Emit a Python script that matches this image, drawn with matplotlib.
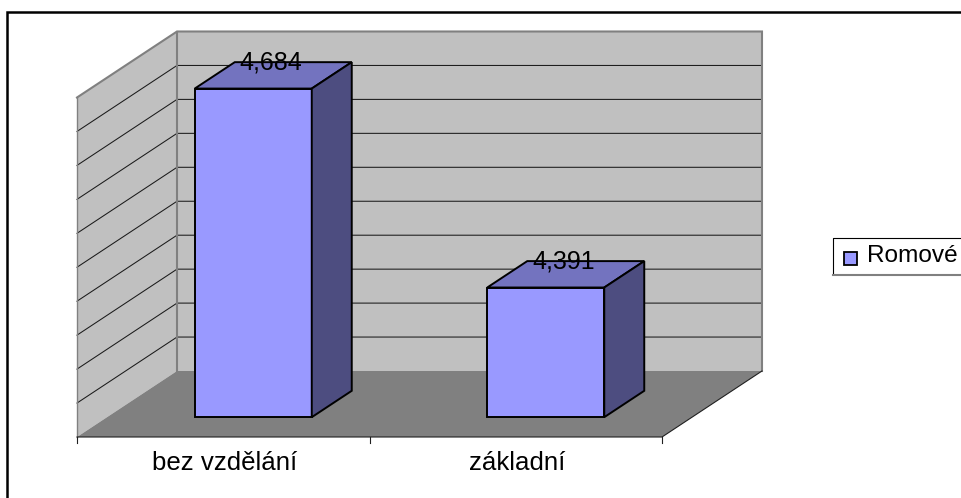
# -*- coding: utf-8 -*-
import matplotlib
matplotlib.use('Agg')
import matplotlib.pyplot as plt
import numpy as np
from matplotlib.patches import Polygon, Rectangle

categories = ['bez vzdělání', 'základní']
values = [4.684, 4.391]
value_labels = ['4,684', '4,391']
series_name = 'Romové'
y_min = 4.2
y_max = 4.7
y_step = 0.05

plt.rcParams['font.family'] = ['Liberation Sans', 'DejaVu Sans']

# oblique projection of the excel 3d chart, pixels of the picture
x0, y0 = 77.0, 437.0
cat_w = 292.5
val_h = 339.5
depth_x, depth_y = 100.0, -66.0


def proj(cat, val, depth):
    px = x0 + cat * cat_w + depth * depth_x
    py = y0 - (val - y_min) / (y_max - y_min) * val_h + depth * depth_y
    return (px, py)


def face(ax, pts, color, edge='none', lw=0.0, z=1):
    ax.add_patch(Polygon(pts, closed=True, facecolor=color, edgecolor=edge,
                         linewidth=lw, joinstyle='miter', zorder=z))


fig = plt.figure(figsize=(9.61, 4.98), dpi=100)
ax = fig.add_axes([0, 0, 1, 1])
ax.set_xlim(0, 961)
ax.set_ylim(498, 0)
ax.axis('off')

n = len(categories)

# chart border, right and bottom are cut off in the picture
ax.plot([7, 7, 961], [498, 11.5, 11.5], color='black', lw=1.8, zorder=1, solid_joinstyle='miter')

# walls and floor
face(ax, [proj(0, y_min, 0), proj(0, y_min, 1), proj(0, y_max, 1), proj(0, y_max, 0)], '#C0C0C0', z=2)
face(ax, [proj(0, y_min, 1), proj(n, y_min, 1), proj(n, y_max, 1), proj(0, y_max, 1)], '#C0C0C0', z=2)
face(ax, [proj(0, y_min, 0), proj(n, y_min, 0), proj(n, y_min, 1), proj(0, y_min, 1)], '#808080', z=2)

# gridlines
for v in np.arange(y_min + y_step, y_max - y_step / 2, y_step):
    a, b, c = proj(0, v, 0), proj(0, v, 1), proj(n, v, 1)
    ax.plot([a[0], b[0], c[0]], [a[1], b[1], c[1]], color='#1a1a1a', lw=0.75, zorder=3)

# wall edges
a, b, c, d = proj(0, y_max, 0), proj(0, y_max, 1), proj(n, y_max, 1), proj(n, y_min, 1)
ax.plot([a[0], b[0], c[0], d[0]], [a[1], b[1], c[1], d[1]], color='#808080', lw=1.5, zorder=4,
        solid_joinstyle='miter')
e = proj(0, y_min, 1)
ax.plot([b[0], e[0]], [b[1], e[1]], color='#808080', lw=1.5, zorder=4)
f = proj(0, y_min, 0)
ax.plot([a[0], f[0]], [a[1], f[1]], color='#808080', lw=1.0, zorder=4)

# front axis, ticks and floor edge
g, h = proj(n, y_min, 0), proj(n, y_min, 1)
ax.plot([f[0], g[0], h[0]], [f[1], g[1], h[1]], color='#202020', lw=0.8, zorder=4)
for i in range(n + 1):
    t = proj(i, y_min, 0)
    ax.plot([t[0], t[0]], [t[1], t[1] + 6], color='#202020', lw=0.8, zorder=4)

# bars
for i in range(n):
    l, r = i + 0.3, i + 0.7
    d1, d2 = 0.3, 0.7
    v = values[i]
    face(ax, [proj(l, y_min, d1), proj(r, y_min, d1), proj(r, v, d1), proj(l, v, d1)],
         '#9999FF', 'black', 1.4, 5)
    face(ax, [proj(l, v, d1), proj(r, v, d1), proj(r, v, d2), proj(l, v, d2)],
         '#7373BF', 'black', 1.4, 5)
    face(ax, [proj(r, y_min, d1), proj(r, y_min, d2), proj(r, v, d2), proj(r, v, d1)],
         '#4D4D80', 'black', 1.4, 5)
    p = proj(i + 0.5, v, d2)
    ax.text(p[0] - 22, p[1] + 0.5, value_labels[i], fontsize=18, ha='center', va='center', zorder=6)
    t = proj(i + 0.5, y_min, 0)
    ax.text(t[0] + 1, t[1] + 26, categories[i], fontsize=18.6, ha='center', va='center', zorder=6)

# legend, runs off the right side
ax.plot([961, 833, 833], [238, 238, 274], color='black', lw=0.8, zorder=4)
ax.plot([833, 961], [274.5, 274.5], color='#808080', lw=1.5, zorder=4)
ax.add_patch(Rectangle((844, 252), 13, 13, facecolor='#9999FF', edgecolor='black', linewidth=1.3, zorder=5))
ax.text(867, 256, series_name, fontsize=17.6, ha='left', va='center', zorder=6)

plt.savefig('out.png', dpi=100)
